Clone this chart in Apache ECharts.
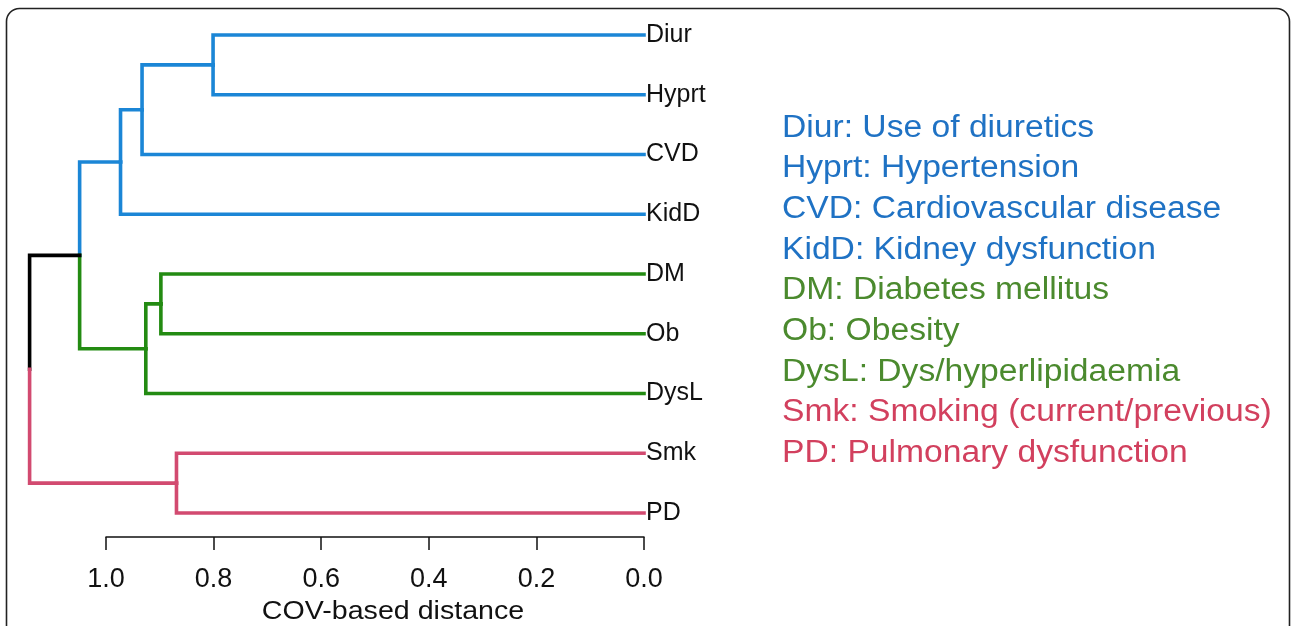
<!DOCTYPE html>
<html>
<head>
<meta charset="utf-8">
<script src="https://cdn.jsdelivr.net/npm/echarts@6/dist/echarts.min.js"></script>
<style>
html,body{margin:0;padding:0;background:#fff;}
#chart{width:1292px;height:626px;}
</style>
</head>
<body>
<div id="chart"></div>
<script>
// ---- data ----
var leaves = ['Diur', 'Hyprt', 'CVD', 'KidD', 'DM', 'Ob', 'DysL', 'Smk', 'PD'];
var leafGroup = [0, 0, 0, 0, 1, 1, 1, 2, 2];
// merges: [childA, childB, distance]; new node ids start at leaves.length
var merges = [
  [0, 1, 0.801],
  [9, 2, 0.933],
  [10, 3, 0.973],
  [4, 5, 0.898],
  [12, 6, 0.926],
  [11, 13, 1.049],
  [7, 8, 0.869],
  [14, 15, 1.142]
];
var legendLabels = [
  'Diur: Use of diuretics',
  'Hyprt: Hypertension',
  'CVD: Cardiovascular disease',
  'KidD: Kidney dysfunction',
  'DM: Diabetes mellitus',
  'Ob: Obesity',
  'DysL: Dys/hyperlipidaemia',
  'Smk: Smoking (current/previous)',
  'PD: Pulmonary dysfunction'
];
var axisTitle = 'COV-based distance';

// ---- build tree geometry ----
var nLeaf = leaves.length;
var nodeX = [], nodeY = [], nodeG = [], parent = [];
for (var i = 0; i < nLeaf; i++) { nodeX[i] = 0; nodeY[i] = i; nodeG[i] = leafGroup[i]; }
merges.forEach(function (m, k) {
  var id = nLeaf + k;
  nodeX[id] = m[2];
  nodeY[id] = (nodeY[m[0]] + nodeY[m[1]]) / 2;
  nodeG[id] = nodeG[m[0]] === nodeG[m[1]] ? nodeG[m[0]] : 3;
  parent[m[0]] = id; parent[m[1]] = id;
});
var branches = [];
for (var n = 0; n < nodeX.length; n++) {
  if (parent[n] === undefined) continue;
  var p = parent[n];
  branches.push([nodeX[n], nodeY[n], nodeX[p], nodeY[p], nodeG[n]]);
}

var lineColors = ['#1b86d6', '#238b12', '#d24a70', '#000000'];
var textColors = ['#1f72c4', '#4b8a2e', '#d2405e'];
var FONT = "'Liberation Sans', Arial, Helvetica, sans-serif";

var legendEls = legendLabels.map(function (t, i) {
  return {
    type: 'text',
    x: 782, y: 128 + i * 40.7,
    scaleX: 1.085,
    style: {
      text: t, fill: textColors[leafGroup[i]],
      font: '31px ' + FONT,
      textVerticalAlign: 'middle', textAlign: 'left'
    }
  };
});

var chart = echarts.init(document.getElementById('chart'), null, {renderer: 'canvas'});
chart.setOption({
  animation: false,
  backgroundColor: '#fff',
  grid: {left: 106, right: 648, top: 35, bottom: 113},
  xAxis: {
    type: 'value', inverse: true, min: 0, max: 1, interval: 0.2,
    position: 'bottom',
    offset: 24,
    axisLine: {show: true, onZero: false, lineStyle: {color: '#111', width: 1.5}},
    axisTick: {show: true, length: 13, lineStyle: {color: '#111', width: 1.5}},
    axisLabel: {
      fontSize: 27, color: '#111', margin: 29, fontFamily: FONT,
      formatter: function (v) { return v.toFixed(1); },
      showMinLabel: true, showMaxLabel: true
    },
    splitLine: {show: false}
  },
  yAxis: [
    {type: 'value', min: 0, max: nLeaf - 1, inverse: true, show: false},
    {
      type: 'category', data: leaves, boundaryGap: false, inverse: true,
      position: 'right', gridIndex: 0,
      axisLine: {show: false}, axisTick: {show: false}, splitLine: {show: false},
      axisLabel: {fontSize: 25, color: '#111', margin: 2, fontFamily: FONT, padding: [4, 0, 0, 0]}
    }
  ],
  series: [{
    type: 'custom',
    yAxisIndex: 0,
    clip: false,
    data: branches,
    encode: {x: [0, 2], y: [1, 3]},
    renderItem: function (params, api) {
      var p1 = api.coord([api.value(0), api.value(1)]);
      var p2 = api.coord([api.value(2), api.value(1)]);
      var p3 = api.coord([api.value(2), api.value(3)]);
      return {
        type: 'polyline',
        shape: {points: [p1, p2, p3]},
        style: {stroke: lineColors[api.value(4)], lineWidth: 3.6, fill: null, lineJoin: 'miter', lineCap: 'square'}
      };
    }
  }],
  graphic: [
    {
      type: 'rect', z: -10, silent: true,
      shape: {x: 6.5, y: 8.5, width: 1283, height: 720, r: 13},
      style: {stroke: '#222', lineWidth: 1.6, fill: null}
    },
    {
      type: 'text', x: 393, y: 612, scaleX: 1.1,
      style: {text: axisTitle, fill: '#111', font: '26px ' + FONT, textAlign: 'center', textVerticalAlign: 'middle'}
    },
    {type: 'group', children: legendEls}
  ]
});
</script>
</body>
</html>
